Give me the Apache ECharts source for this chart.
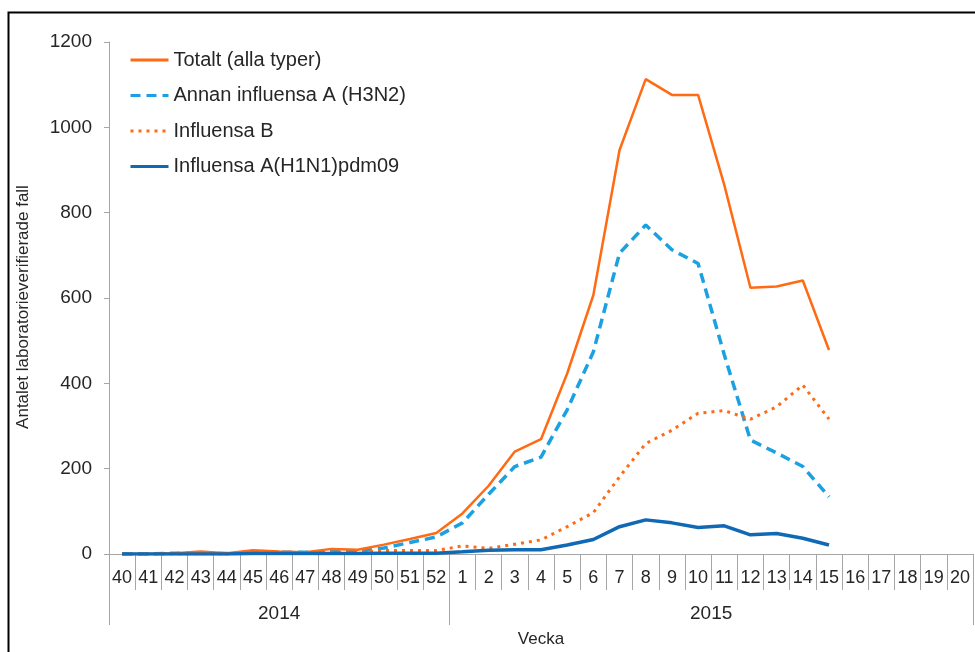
<!DOCTYPE html>
<html>
<head>
<meta charset="utf-8">
<script src="https://cdn.jsdelivr.net/npm/echarts@6/dist/echarts.min.js"></script>
<style>html,body{margin:0;padding:0;background:#fff}#c{width:975px;height:652px}</style>
</head>
<body>
<div id="c"></div>
<script>
const weeks = ['40','41','42','43','44','45','46','47','48','49','50','51','52',
  '1','2','3','4','5','6','7','8','9','10','11','12','13','14','15','16','17','18','19','20'];
const years = ['2014', '2015'];
const yearCenters = [6.5, 23];
const yearBounds = [0, 13, 33];
const totalt = [0,0,2,6,2,9,6,4,12,10,22,35,49,
  95,160,240,269,423,607,947,1113,1076,1076,865,624,627,641,478,null,null,null,null,null];
const h3n2 = [0,0,2,2,1,4,4,4,6,6,14,27,40,
  73,140,205,227,338,474,705,771,713,681,467,267,237,205,134,null,null,null,null,null];
const inflB = [0,0,0,1,0,2,1,1,4,4,8,8,8,
  19,13,23,33,64,97,181,259,290,330,336,316,345,396,316,null,null,null,null,null];
const h1n1 = [0,0,0,0,0,1,1,1,1,1,2,2,2,
  5,9,10,10,21,34,64,80,73,62,66,45,48,37,21,null,null,null,null,null];

const names = ['Totalt (alla typer)', 'Annan influensa A (H3N2)', 'Influensa B', 'Influensa A(H1N1)pdm09'];
const font = "'Liberation Sans', Arial, sans-serif";
const txt = '#262626';
const axisGray = '#a6a6a6';

const chart = echarts.init(document.getElementById('c'));
chart.setOption({
  animation: false,
  backgroundColor: '#fff',
  textStyle: { fontFamily: font },
  grid: { left: 109, right: 2, top: 42, bottom: 98, containLabel: false, outerBoundsMode: 'none' },
  legend: {
    orient: 'vertical', left: 124, top: 45, itemWidth: 38, itemHeight: 20, itemGap: 15.5,
    itemStyle: { opacity: 0 },
    lineStyle: { width: 3 },
    textStyle: { fontSize: 20, color: txt, fontFamily: font },
    data: names
  },
  graphic: [{
    type: 'rect', left: 6, top: 10, shape: { width: 1200, height: 800 },
    style: { fill: 'none', stroke: '#000', lineWidth: 2 }, silent: true, z: 100
  }],
  xAxis: [{
    type: 'category', data: weeks, boundaryGap: true, position: 'bottom',
    name: 'Vecka', nameLocation: 'middle', nameGap: 77,
    nameTextStyle: { fontSize: 17, color: txt, fontFamily: font },
    axisLine: { lineStyle: { color: axisGray, width: 1 } },
    axisTick: { show: true, length: 36, lineStyle: { color: axisGray } },
    axisLabel: { interval: 0, fontSize: 18, color: txt, margin: 15, fontFamily: font }
  }, {
    type: 'value', min: 0, max: 33, position: 'bottom', offset: 0,
    axisLine: { show: false },
    splitLine: { show: false },
    axisTick: { show: true, length: 71, customValues: yearBounds, lineStyle: { color: axisGray } },
    axisLabel: {
      customValues: yearCenters, fontSize: 19, color: txt, margin: 50, fontFamily: font,
      formatter: function (v) { return v < 13 ? years[0] : years[1]; }
    }
  }],
  yAxis: {
    type: 'value', min: 0, max: 1200, interval: 200,
    name: 'Antalet laboratorieverifierade fall', nameLocation: 'middle', nameGap: 77,
    nameTextStyle: { fontSize: 17, color: txt, fontFamily: font, padding: [0, 18, 0, 0] },
    axisLine: { show: true, lineStyle: { color: axisGray } },
    axisTick: { show: true, length: 5, lineStyle: { color: axisGray } },
    splitLine: { show: false },
    axisLabel: { fontSize: 19, color: txt, margin: 17, fontFamily: font,
      formatter: function (v) { return String(v); } }
  },
  series: [
    { name: names[0], type: 'line', data: totalt, symbol: 'none', z: 3,
      lineStyle: { color: '#FF6A13', width: 2.5 }, itemStyle: { color: '#FF6A13' } },
    { name: names[1], type: 'line', data: h3n2, symbol: 'none', z: 2,
      lineStyle: { color: '#1BA1E2', width: 3.5, type: [10, 6] }, itemStyle: { color: '#1BA1E2' } },
    { name: names[2], type: 'line', data: inflB, symbol: 'none', z: 2,
      lineStyle: { color: '#FF6A13', width: 3, type: [3, 5] }, itemStyle: { color: '#FF6A13' } },
    { name: names[3], type: 'line', data: h1n1, symbol: 'none', z: 4,
      lineStyle: { color: '#0F69B4', width: 3.5 }, itemStyle: { color: '#0F69B4' } }
  ]
});
</script>
</body>
</html>
